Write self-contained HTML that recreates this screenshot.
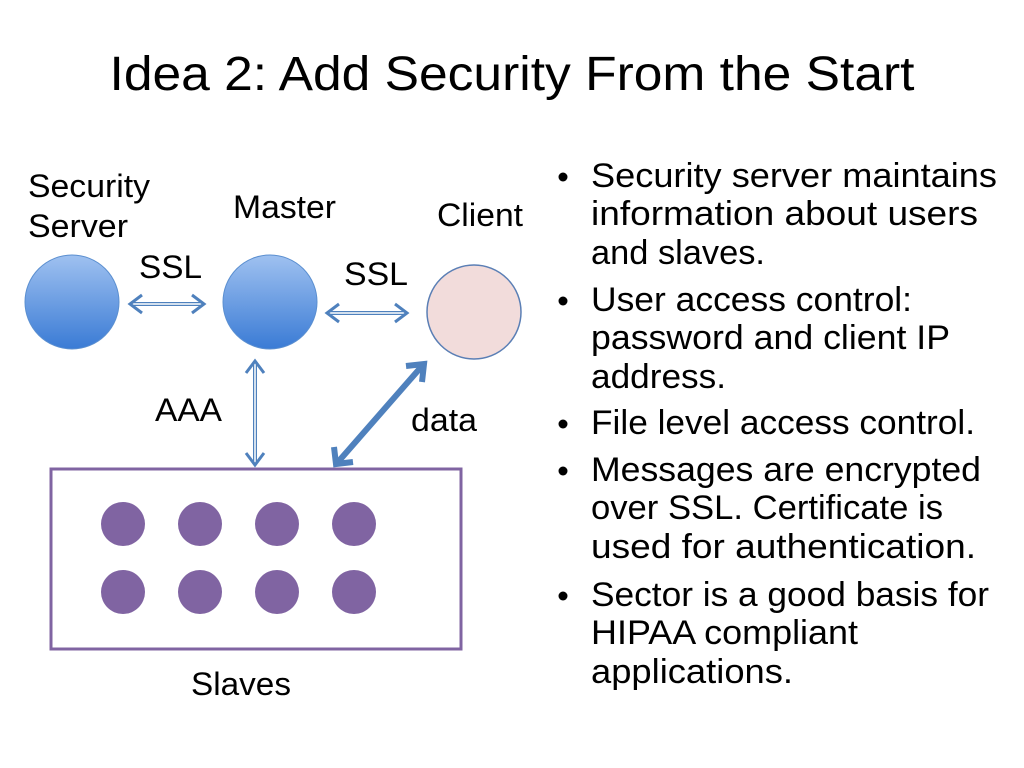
<!DOCTYPE html>
<html><head><meta charset="utf-8"><style>
html,body{margin:0;padding:0;background:#fff;}
svg{display:block}
</style></head><body>
<svg width="1024" height="768" viewBox="0 0 1024 768" xmlns="http://www.w3.org/2000/svg">
<defs>
<linearGradient id="bl" x1="0" y1="0" x2="0" y2="1">
<stop offset="0" stop-color="#9fc1f0"/><stop offset="1" stop-color="#3a7bd5"/>
</linearGradient>
</defs>
<text x="512" y="90" text-anchor="middle" font-family="Liberation Sans, sans-serif" font-size="48" textLength="805" lengthAdjust="spacingAndGlyphs" fill="#000">Idea 2: Add Security From the Start</text>

<g font-family="Liberation Sans, sans-serif" font-size="32" fill="#000">
<text x="28" y="197" textLength="122" lengthAdjust="spacingAndGlyphs">Security</text>
<text x="28" y="237" textLength="100" lengthAdjust="spacingAndGlyphs">Server</text>
<text x="233" y="218" textLength="103" lengthAdjust="spacingAndGlyphs">Master</text>
<text x="437" y="226" textLength="86" lengthAdjust="spacingAndGlyphs">Client</text>
<text x="139" y="278" textLength="63" lengthAdjust="spacingAndGlyphs">SSL</text>
<text x="344" y="285" textLength="64" lengthAdjust="spacingAndGlyphs">SSL</text>
<text x="155" y="421" textLength="67" lengthAdjust="spacingAndGlyphs">AAA</text>
<text x="411" y="431" textLength="66" lengthAdjust="spacingAndGlyphs">data</text>
<text x="191" y="695" textLength="100" lengthAdjust="spacingAndGlyphs">Slaves</text>
</g>

<circle cx="72" cy="302" r="47" fill="url(#bl)" stroke="#5b8fd0" stroke-width="1"/>
<circle cx="270" cy="302" r="47" fill="url(#bl)" stroke="#5b8fd0" stroke-width="1"/>
<circle cx="474" cy="312" r="47" fill="#f2dcdb" stroke="#5b7fb5" stroke-width="1.5"/>

<g stroke="#4f81bd" fill="none">
<line x1="131" y1="304" x2="203" y2="304" stroke-width="4"/>
<line x1="131" y1="304" x2="203" y2="304" stroke="#fff" stroke-width="1.5"/>
<path d="M142,295 L130,304 L142,313 M192,295 L204,304 L192,313" stroke-width="3"/>
<line x1="328" y1="313" x2="406" y2="313" stroke-width="4"/>
<line x1="328" y1="313" x2="406" y2="313" stroke="#fff" stroke-width="1.5"/>
<path d="M339,304 L327,313 L339,322 M395,304 L407,313 L395,322" stroke-width="3"/>
<line x1="255" y1="362" x2="255" y2="464" stroke-width="4"/>
<line x1="255" y1="362" x2="255" y2="464" stroke="#fff" stroke-width="1.5"/>
<path d="M246,373 L255,361 L264,373 M246,453 L255,465 L264,453" stroke-width="3"/>
<line x1="338" y1="462" x2="422" y2="366" stroke-width="6"/>
<path d="M334,447 L336,464 L353,462 M406,366 L424,364 L422,382" stroke-width="6" stroke-linejoin="miter"/>
</g>

<rect x="51" y="469" width="410" height="180" fill="#fff" stroke="#8064a2" stroke-width="3"/>
<g fill="#8064a2">
<circle cx="123" cy="524" r="22"/><circle cx="200" cy="524" r="22"/><circle cx="277" cy="524" r="22"/><circle cx="354" cy="524" r="22"/>
<circle cx="123" cy="592" r="22"/><circle cx="200" cy="592" r="22"/><circle cx="277" cy="592" r="22"/><circle cx="354" cy="592" r="22"/>
</g>

<g fill="#000">
<circle cx="563" cy="177" r="4.5"/><circle cx="563" cy="301" r="4.5"/><circle cx="563" cy="424" r="4.5"/><circle cx="563" cy="471" r="4.5"/><circle cx="563" cy="596" r="4.5"/>
</g>
<g font-family="Liberation Sans, sans-serif" font-size="34" fill="#000">
<text x="591" y="187" textLength="406" lengthAdjust="spacingAndGlyphs">Security server maintains</text>
<text x="591" y="225" textLength="387" lengthAdjust="spacingAndGlyphs">information about users</text>
<text x="591" y="264" textLength="174" lengthAdjust="spacingAndGlyphs">and slaves.</text>
<text x="591" y="311" textLength="321" lengthAdjust="spacingAndGlyphs">User access control:</text>
<text x="591" y="349" textLength="359" lengthAdjust="spacingAndGlyphs">password and client IP</text>
<text x="591" y="388" textLength="135" lengthAdjust="spacingAndGlyphs">address.</text>
<text x="591" y="434" textLength="384" lengthAdjust="spacingAndGlyphs">File level access control.</text>
<text x="591" y="481" textLength="390" lengthAdjust="spacingAndGlyphs">Messages are encrypted</text>
<text x="591" y="519" textLength="352" lengthAdjust="spacingAndGlyphs">over SSL. Certificate is</text>
<text x="591" y="558" textLength="385" lengthAdjust="spacingAndGlyphs">used for authentication.</text>
<text x="591" y="606" textLength="398" lengthAdjust="spacingAndGlyphs">Sector is a good basis for</text>
<text x="591" y="644" textLength="267" lengthAdjust="spacingAndGlyphs">HIPAA compliant</text>
<text x="591" y="683" textLength="202" lengthAdjust="spacingAndGlyphs">applications.</text>
</g>
</svg>
</body></html>
